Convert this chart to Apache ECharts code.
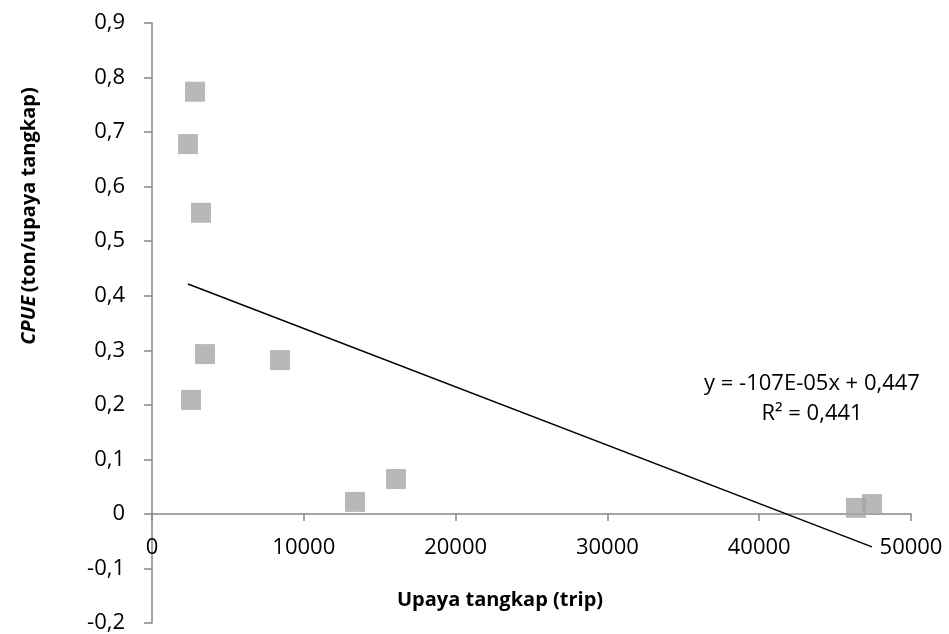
<!DOCTYPE html>
<html><head><meta charset="utf-8">
<script src="https://cdn.jsdelivr.net/npm/echarts@6/dist/echarts.min.js"></script>
<style>html,body{margin:0;padding:0;background:#fff}#c{width:949px;height:634px}</style>
</head><body><div id="c"></div>
<script>
const effort = [2833, 2372, 3228, 3491, 2569, 8432, 13373, 16074, 46377, 47431];
const cpue   = [0.774, 0.678, 0.552, 0.293, 0.209, 0.282, 0.022, 0.064, 0.011, 0.018];
const trendSlope = -1.07e-5;
const trendIntercept = 0.447;
const eqLine1 = 'y = -107E-05x + 0,447';
const eqLine2 = 'R² = 0,441';
const xTitle = 'Upaya tangkap (trip)';

const pts = effort.map((x, i) => [x, cpue[i]]);
const xMin = Math.min(...effort), xMax = Math.max(...effort);
const trend = [[xMin, trendSlope * xMin + trendIntercept], [xMax, trendSlope * xMax + trendIntercept]];

const FONT = 'Open Sans';
const FS = 22;
const chart = echarts.init(document.getElementById('c'));
chart.setOption({
  animation: false,
  grid: {left: 152, right: 38, top: 23, bottom: 11, outerBoundsMode: 'none', containLabel: false},
  xAxis: {
    type: 'value', min: 0, max: 50000, interval: 10000,
    axisLine: {onZero: true, lineStyle: {color: '#868686', width: 1.5}},
    axisTick: {show: true, length: 7, lineStyle: {color: '#868686', width: 1.5}},
    axisLabel: {margin: -86, color: '#000', fontFamily: FONT, fontSize: FS, formatter: v => String(v)},
    splitLine: {show: false}
  },
  yAxis: {
    type: 'value', min: -0.2, max: 0.9, interval: 0.1,
    axisLine: {show: true, lineStyle: {color: '#868686', width: 1.5}},
    axisTick: {show: true, length: 8, lineStyle: {color: '#868686', width: 1.5}},
    axisLabel: {margin: 27, color: '#000', fontFamily: FONT, fontSize: FS,
      formatter: v => (Math.round(v * 10) / 10).toString().replace('.', ',')},
    splitLine: {show: false}
  },
  series: [
    {type: 'line', data: trend, symbol: 'none', lineStyle: {color: '#000', width: 1.5}, z: 3},
    {type: 'scatter', data: pts, symbol: 'rect', symbolSize: 20, itemStyle: {color: '#A6A6A6'}, z: 2}
  ],
  graphic: [
    {type: 'text', x: 812, y: 384, style: {text: eqLine1, fontFamily: FONT, fontSize: FS, fill: '#000', align: 'center', verticalAlign: 'middle'}},
    {type: 'text', x: 812, y: 414, style: {text: eqLine2, fontFamily: FONT, fontSize: FS, fill: '#000', align: 'center', verticalAlign: 'middle'}},
    {type: 'text', x: 500, y: 600, style: {text: xTitle, fontFamily: FONT, fontSize: 20, fontWeight: 'bold', fill: '#000', align: 'center', verticalAlign: 'middle'}},
    {type: 'text', x: 29, y: 216, rotation: Math.PI / 2,
      style: {text: '{i|CPUE} {b|(ton/upaya tangkap)}', align: 'center', verticalAlign: 'middle',
        rich: {i: {fontFamily: FONT, fontSize: 20, fontWeight: 'bold', fontStyle: 'italic', fill: '#000'},
               b: {fontFamily: FONT, fontSize: 20, fontWeight: 'bold', fill: '#000'}}}}
  ]
});
</script></body></html>
